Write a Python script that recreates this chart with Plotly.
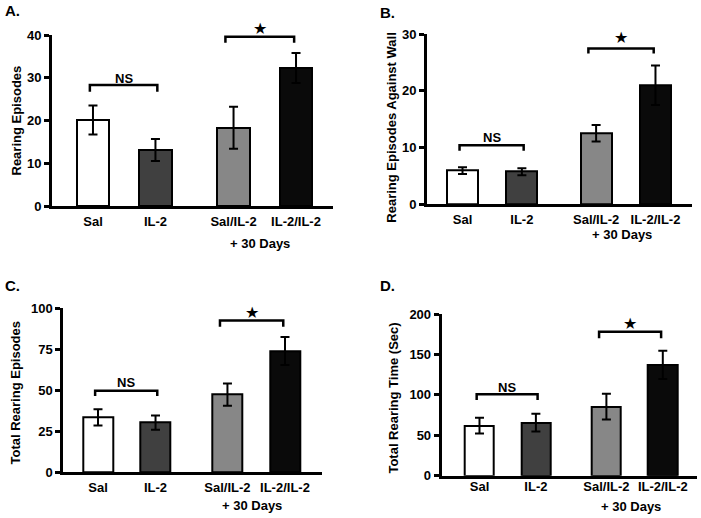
import plotly.graph_objects as go

W, H = 701, 518

categories = ["Sal", "IL-2", "Sal/IL-2", "IL-2/IL-2"]
bar_colors = ["#ffffff", "#404040", "#878787", "#0a0a0a"]

# Panel A: Rearing Episodes
rearing_mean = [20.1, 13.1, 18.3, 32.3]
rearing_err = [3.4, 2.6, 4.9, 3.5]
# Panel B: Rearing Episodes Against Wall
wall_mean = [5.9, 5.7, 12.5, 21.0]
wall_err = [0.6, 0.6, 1.45, 3.5]
# Panel C: Total Rearing Episodes
total_mean = [33.5, 30.3, 47.4, 74.0]
total_err = [4.9, 4.4, 6.8, 8.5]
# Panel D: Total Rearing Time (Sec)
time_mean = [61.9, 65.6, 85.4, 137.1]
time_err = [9.7, 11.0, 16.0, 17.5]

rearing_ticks = [0, 10, 20, 30, 40]
wall_ticks = [0, 10, 20, 30]
total_ticks = [0, 25, 50, 75, 100]
time_ticks = [0, 50, 100, 150, 200]

xpos = [0, 1, 2.25, 3.25]

panels = [
    dict(label="A.", title="Rearing Episodes", mean=rearing_mean, err=rearing_err,
         ticks=rearing_ticks, px=(52, 333), py=(35, 206), xr=(-0.656, 3.842),
         ns=(28.3, 26.7, 29.9), st=(39.6, 38.2, 41.6),
         lab=(3, 11), tit=(16, 120.5), so=1, days=37),
    dict(label="B.", title="Rearing Episodes Against Wall", mean=wall_mean, err=wall_err,
         ticks=wall_ticks, px=(427, 692), py=(34.3, 204), xr=(-0.598, 3.865),
         ns=(10.4, 9.4, 11.7), st=(27.5, 26.6, 29.4),
         lab=(378, 13), tit=(391.7, 128), so=1, days=30),
    dict(label="C.", title="Total Rearing Episodes", mean=total_mean, err=total_err,
         ticks=total_ticks, px=(63.3, 321.7), py=(308.3, 472.3), xr=(-0.603, 3.888),
         ns=(49.8, 46.5, 55.0), st=(92.5, 88.8, 97.2),
         lab=(3, 285), tit=(15, 392.5), so=1, days=33),
    dict(label="D.", title="Total Rearing Time (Sec)", mean=time_mean, err=time_err,
         ticks=time_ticks, px=(441.7, 696.7), py=(314, 475.7), xr=(-0.670, 3.851),
         ns=(100.6, 93.6, 109.3), st=(178, 170, 188.5),
         lab=(378, 285), tit=(393.3, 398.3), so=-3, days=31),
]

FONT = "Liberation Sans, Arial, sans-serif"
TF = dict(size=13, family=FONT, color="black")
fig = go.Figure()
annotations = []
layout = {}

for i, p in enumerate(panels):
    n = "" if i == 0 else str(i + 1)
    xa, ya = "x" + n, "y" + n
    ytop = p["ticks"][-1]
    fig.add_trace(go.Bar(
        x=xpos, y=p["mean"], xaxis=xa, yaxis=ya, width=0.52,
        marker=dict(color=bar_colors, line=dict(color="black", width=2)),
        error_y=dict(type="data", array=p["err"], color="black", thickness=2, width=4.5),
        showlegend=False, hoverinfo="skip"))
    # brackets
    top, leg, ty = p["ns"]
    fig.add_trace(go.Scatter(
        x=[-0.05, -0.05, 1.03, 1.03], y=[leg, top, top, leg], xaxis=xa, yaxis=ya,
        mode="lines", line=dict(color="black", width=2.5), showlegend=False,
        hoverinfo="skip", cliponaxis=False))
    annotations.append(dict(x=0.49, y=ty / ytop, xref=xa, yref=ya + " domain", text="<b>NS</b>",
                            showarrow=False, xanchor="center", yanchor="middle", font=TF))
    top, leg, ty = p["st"]
    fig.add_trace(go.Scatter(
        x=[2.12, 2.12, 3.22, 3.22], y=[leg, top, top, leg], xaxis=xa, yaxis=ya,
        mode="lines", line=dict(color="black", width=2.5), showlegend=False,
        hoverinfo="skip", cliponaxis=False))
    annotations.append(dict(x=2.67, y=ty / ytop, xref=xa, yref=ya + " domain", text="★",
                            showarrow=False, xanchor="center", yanchor="middle",
                            font=dict(size=16, family="DejaVu Sans", color="black")))
    annotations.append(dict(x=2.68, y=0, xref=xa, yref=ya + " domain", yshift=-p["days"],
                            text="<b>+ 30 Days</b>", showarrow=False, xanchor="center",
                            yanchor="middle", font=TF))
    # panel label
    annotations.append(dict(x=p["lab"][0] / W, y=1 - p["lab"][1] / H, xref="paper", yref="paper",
                            text="<b>" + p["label"] + "</b>", showarrow=False, xanchor="left",
                            yanchor="middle", font=dict(size=15, family=FONT, color="black")))
    # y axis title
    annotations.append(dict(x=p["tit"][0] / W, y=1 - p["tit"][1] / H, xref="paper", yref="paper",
                            text="<b>" + p["title"] + "</b>", showarrow=False, textangle=-90,
                            xanchor="center", yanchor="middle", font=TF))
    layout["xaxis" + n] = dict(
        domain=[p["px"][0] / W, p["px"][1] / W], range=list(p["xr"]), anchor=ya,
        tickvals=xpos, ticktext=["<b>%s</b>" % c for c in categories], ticks="",
        showline=True, linewidth=3, linecolor="black", showgrid=False, zeroline=False,
        fixedrange=True, automargin=False, tickfont=TF, ticklabelstandoff=p["so"])
    layout["yaxis" + n] = dict(
        domain=[1 - p["py"][1] / H, 1 - p["py"][0] / H], range=[0, ytop], anchor=xa,
        tickvals=p["ticks"], ticktext=["<b>%d</b>" % t for t in p["ticks"]],
        ticks="outside", ticklen=5, tickwidth=2.5, tickcolor="black", showline=True,
        linewidth=3, linecolor="black", showgrid=False, zeroline=False, fixedrange=True,
        automargin=False, tickfont=TF)

fig.update_layout(
    template="none",
    width=W, height=H, margin=dict(l=0, r=0, t=0, b=0, autoexpand=False),
    paper_bgcolor="white", plot_bgcolor="white",
    font=dict(family=FONT, color="black"),
    annotations=annotations, bargap=0, **layout)

fig.write_html("out.html", config={"displayModeBar": False},
               post_script="document.body.style.margin='0';")
